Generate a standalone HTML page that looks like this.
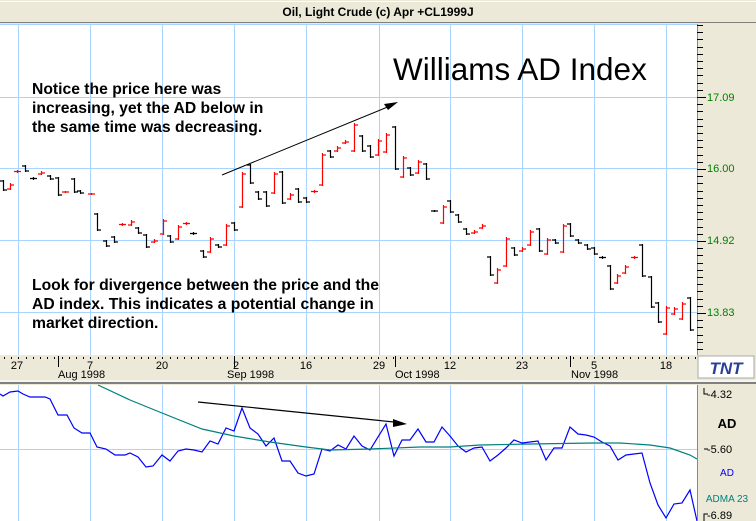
<!DOCTYPE html>
<html><head><meta charset="utf-8"><style>
html,body{margin:0;padding:0;background:#ece9d8;}
svg{display:block;font-family:"Liberation Sans",sans-serif;}
</style></head><body>
<svg id="s" width="756" height="521" viewBox="0 0 756 521" xmlns="http://www.w3.org/2000/svg">
<rect x="0" y="0" width="756" height="521" fill="#ece9d8"/>
<rect x="0" y="0" width="756" height="22" fill="#ece9d8"/>
<line x1="0" y1="22.5" x2="756" y2="22.5" stroke="#808080"/>
<line x1="0" y1="1.5" x2="756" y2="1.5" stroke="#fff"/>
<text x="378" y="16" text-anchor="middle" font-size="12" font-weight="bold" fill="#000">Oil, Light Crude (c) Apr +CL1999J</text>
<rect x="0" y="24" width="697" height="331" fill="#fff"/>
<rect x="0" y="385" width="697" height="136" fill="#fff"/>
<line x1="0" y1="383" x2="756" y2="383" stroke="#808080" stroke-width="2"/>
<line x1="0" y1="381" x2="756" y2="381" stroke="#fff"/>
<g id="grid" stroke="#a8d4ff" stroke-width="1"></g>
<g id="bars" stroke-width="1.2" fill="none"></g>
<line x1="222" y1="175" x2="390" y2="106" stroke="#000" stroke-width="1"/>
<polygon points="398,102 384,104 388,110" fill="#000"/>
<polyline id="ad" fill="none" stroke="#0000ff" stroke-width="1.2"/>
<polyline id="adma" fill="none" stroke="#008080" stroke-width="1.2"/>
<line x1="198" y1="402" x2="394" y2="422" stroke="#000" stroke-width="1.2"/>
<polygon points="407,424 393,419 393,427" fill="#000"/>
<g font-size="15.7" font-weight="bold">
<text x="32" y="94">Notice the price here was</text>
<text x="32" y="113">increasing, yet the AD below in</text>
<text x="32" y="132">the same time was decreasing.</text>
<text x="32" y="290">Look for divergence between the price and the</text>
<text x="32" y="309">AD index. This indicates a potential change in</text>
<text x="32" y="328">market direction.</text>
</g>
<text x="393" y="80" font-size="31.5" fill="#000">Williams AD Index</text>
<g id="rax" stroke="#000" stroke-width="1"></g>
<g font-size="11" fill="#008000">
<text x="707" y="101">17.09</text><text x="707" y="172">16.00</text>
<text x="707" y="244">14.92</text><text x="707" y="316">13.83</text>
</g>
<g id="dax" stroke="#000"></g>
<g font-size="11" fill="#000" text-anchor="middle">
<text x="17" y="369">27</text><text x="90" y="369">7</text><text x="162" y="369">20</text>
<text x="236" y="369">2</text><text x="306" y="369">16</text><text x="379" y="369">29</text>
<text x="450" y="369">12</text><text x="522" y="369">23</text><text x="594" y="369">5</text>
<text x="666" y="369">18</text>
</g>
<g font-size="11" fill="#000">
<text x="58" y="378">Aug 1998</text><text x="227" y="378">Sep 1998</text>
<text x="395" y="378">Oct 1998</text><text x="571" y="378">Nov 1998</text>
</g>
<rect x="698" y="356" width="56" height="22" fill="#fff" stroke="#aaa"/>
<text x="726" y="374" text-anchor="middle" font-size="17" font-weight="bold" font-style="italic" fill="#2a3f9a">TNT</text>
<line x1="697.5" y1="385" x2="697.5" y2="521" stroke="#888"/>
<path d="M704 388 V394 H708 M704 449 H708 M704 521 V514 H708" stroke="#000" fill="none"/>
<text x="707" y="398" font-size="11">-4.32</text>
<text x="707" y="453" font-size="11">-5.60</text>
<text x="707" y="519" font-size="11">-6.89</text>
<text x="727" y="428" text-anchor="middle" font-size="13" font-weight="bold">AD</text>
<text x="727" y="476" text-anchor="middle" font-size="10" fill="#0000ff">AD</text>
<text x="727" y="502" text-anchor="middle" font-size="10" fill="#008080">ADMA 23</text>
</svg>
<script>
var NS="http://www.w3.org/2000/svg";
function el(p,t,a){var e=document.createElementNS(NS,t);for(var k in a)e.setAttribute(k,a[k]);p.appendChild(e);return e;}
var g=document.getElementById("grid");
[18,90,162,234,306,379,450,522,594,666].forEach(function(x){el(g,"line",{x1:x+.5,y1:24,x2:x+.5,y2:355});el(g,"line",{x1:x+.5,y1:385,x2:x+.5,y2:521});});
[24,97,168,240,312].forEach(function(y){el(g,"line",{x1:0,y1:y+.5,x2:697,y2:y+.5});});
el(g,"line",{x1:0,y1:449.5,x2:697,y2:449.5});
var r=document.getElementById("rax");
el(r,"line",{x1:697.5,y1:24,x2:697.5,y2:355,stroke:"#888"});
for(var y=25;y<355;y+=7.2){var maj=[97,168,240,312].some(function(m){return Math.abs(m-y)<3.6;});el(r,"line",{x1:697,y1:Math.round(y)+.5,x2:maj?706:703,y2:Math.round(y)+.5});}
var d=document.getElementById("dax");
for(var x=4;x<697;x+=7.2){el(d,"line",{x1:Math.round(x)+.5,y1:357,x2:Math.round(x)+.5,y2:359});}
[58,234,395,570].forEach(function(x){el(d,"line",{x1:x+.5,y1:356,x2:x+.5,y2:367});});
var R=[[10,183,190],[17,170,173],[41,171,175],[65,191,193],[91,193,195],[122,223,226],[131,220,226],[154,239,243],[163,219,235],[178,225,240],[186,222,225],[210,237,253],[226,224,246],[242,172,208],[274,172,194],[290,193,200],[314,190,193],[322,153,186],[337,146,152],[345,140,144],[354,123,152],[378,139,156],[386,133,153],[403,156,178],[418,160,174],[443,205,224],[474,230,234],[482,224,229],[497,268,284],[506,237,267],[522,247,252],[530,230,246],[547,238,255],[563,224,253],[617,274,284],[625,265,274],[634,256,259],[666,306,335],[674,307,315],[682,302,320]];
var B=[[3,180,191],[25,165,172],[33,177,180],[50,175,180],[58,177,196],[74,178,193],[80,190,194],[97,213,231],[106,240,247],[114,236,243],[138,227,234],[146,234,248],[170,235,243],[193,232,235],[203,250,258],[218,244,248],[234,222,231],[250,164,184],[258,191,200],[266,191,207],[282,171,204],[298,188,203],[306,197,203],[330,150,158],[362,135,152],[370,145,158],[395,126,170],[410,167,176],[426,163,180],[434,210,212],[450,200,213],[458,214,223],[466,228,235],[490,256,276],[514,247,256],[539,228,252],[555,239,244],[570,223,237],[578,239,244],[587,244,250],[594,247,255],[602,256,259],[610,265,290],[642,244,277],[651,276,308],[658,302,323],[690,297,331]];
var b=document.getElementById("bars");
function bar(a,c,up){var x=a[0]+.5,h=a[1],l=a[2];var o=up?l-1:h+1,cl=up?h+2:l-1;if(l-h<4){o=cl=(h+l)/2;}
el(b,"path",{d:"M"+x+" "+h+"V"+l+"M"+(x-3.5)+" "+o+"H"+x+"M"+x+" "+cl+"H"+(x+3.5),stroke:c});}
R.forEach(function(a){bar(a,"#ff0000",1)});B.forEach(function(a){bar(a,"#000",0)});
var ad=[[0,394],[3,396],[10,392],[18,391],[23,394],[30,397],[45,397],[50,399],[58,415],[67,415],[74,428],[82,433],[90,433],[97,447],[106,449],[115,455],[125,455],[130,453],[138,457],[146,467],[153,466],[162,455],[170,461],[178,451],[186,449],[194,450],[202,452],[210,441],[218,444],[226,428],[234,431],[242,408],[250,428],[258,434],[266,446],[274,438],[282,461],[290,461],[298,473],[306,476],[314,474],[322,449],[330,451],[338,445],[346,449],[354,436],[362,446],[370,450],[386,424],[394,456],[402,440],[410,440],[418,429],[426,442],[434,442],[442,427],[450,436],[458,446],[466,452],[474,448],[482,447],[490,461],[498,455],[506,448],[514,440],[522,443],[530,442],[538,441],[546,460],[554,448],[562,448],[570,427],[578,434],[586,435],[594,437],[602,442],[610,446],[618,460],[626,455],[634,454],[642,453],[650,483],[658,505],[666,518],[674,504],[682,503],[690,490],[697,521]];
document.getElementById("ad").setAttribute("points",ad.join(" "));
var ma=[[98,385],[130,400],[162,413],[202,429],[234,436],[270,442],[306,447],[330,450],[370,449],[420,447],[450,447],[480,445],[530,444],[594,443],[620,443],[650,445],[670,448],[690,455],[697,459]];
document.getElementById("adma").setAttribute("points",ma.join(" "));
</script>
</body></html>
